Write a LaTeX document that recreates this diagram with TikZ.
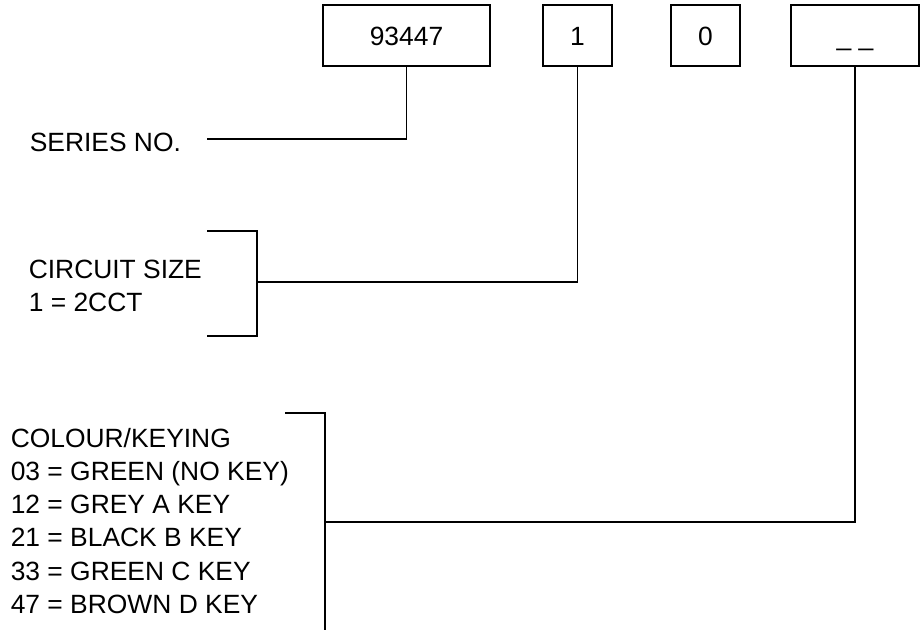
\documentclass[tikz,border=0pt]{standalone}
\usepackage{fontspec}
\setmainfont{Liberation Sans}
\usepackage{tikz}
\usetikzlibrary{calc}
\tikzstyle{field}=[draw, minimum height=61pt, text height=19pt, text depth=0pt, inner sep=0pt]
\tikzstyle{lbl}=[anchor=base west, inner sep=0pt]

\begin{document}
\begin{tikzpicture}[x=1pt,y=-1pt,line width=1.6pt,font=\fontsize{26.4}{33}\selectfont]
\useasboundingbox (0,0) rectangle (922,630);
\node[field,minimum width=167pt] (series) at (406.5,35.5) {93447};
\node[field,minimum width=69pt] (size) at (577.5,35.5) {1};
\node[field,minimum width=69pt] (zero) at (705.5,35.5) {0};
\node[field,minimum width=128pt] (colour) at (855,35.5) {\_ \_};

\node[lbl] (serieslbl) at (29,151) {SERIES NO.};
\coordinate (seriesend) at (207,139);
\draw (series.south) |- (seriesend);

\foreach \t [count=\i] in {CIRCUIT SIZE, 1 = 2CCT} {
	\node[lbl] (sizelbl\i) at (28,{278+33*(\i-1)}) {\t};
}
\coordinate (sizetop) at (207,231);
\coordinate (sizebot) at (207,336);
\coordinate (sizejoin) at (257,282);
\draw (sizetop) -| (sizejoin |- sizebot) -- (sizebot);
\draw (sizejoin) -| (size.south);

\foreach \t [count=\i] in {COLOUR/KEYING, 03 = GREEN (NO KEY), 12 = GREY A KEY, 21 = BLACK B KEY, 33 = GREEN C KEY, 47 = BROWN D KEY} {
	\node[lbl] (colourlbl\i) at (10,{447+33.3*(\i-1)}) {\t};
}
\coordinate (colourtop) at (285,413);
\coordinate (colourjoin) at (325,522);
\draw (colourtop) -| (colourjoin |- 0,630);
\draw (colourjoin) -| (colour.south);
\end{tikzpicture}
\end{document}
